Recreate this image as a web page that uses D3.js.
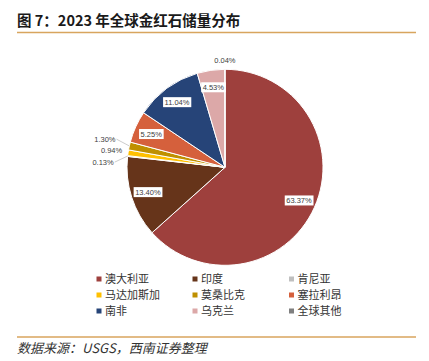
<!DOCTYPE html>
<html>
<head>
<meta charset="utf-8">
<script src="https://cdn.jsdelivr.net/npm/d3@7"></script>
<style>
  body { margin: 0; background: #fff; }
  svg { display: block; }
</style>
</head>
<body>
<svg width="429" height="361"></svg>
<script>
// chart data
const categories = ['澳大利亚', '印度', '肯尼亚', '马达加斯加', '莫桑比克', '塞拉利昂', '南非', '乌克兰', '全球其他'];
const shares = [63.37, 13.40, 0.13, 0.94, 1.30, 5.25, 11.04, 4.53, 0.04];	// % of global reserves
const colors = ['#9E403D', '#66341A', '#BFBFBF', '#FFC000', '#BF9000', '#D5603C', '#264478', '#DCA8A8', '#7F7F7F'];

const titleText = '图 7：2023 年全球金红石储量分布';
const sourceText = '数据来源：USGS，西南证券整理';

const svg = d3.select('svg');
const cjk = '"Noto Sans CJK SC", "Liberation Sans", sans-serif';
const cx = 225, cy = 167.3, R = 98;	// pie centre and radius

// title and rules
svg.append('text')
	.attr('x', 17).attr('y', 26)
	.style('font-family', cjk).style('font-size', '14.5px').style('font-weight', 700)
	.attr('fill', '#1a1a1a')
	.text(titleText);

svg.append('line').attr('x1', 17).attr('x2', 416).attr('y1', 32.5).attr('y2', 32.5)
	.attr('stroke', '#D8A55E').attr('stroke-width', 1.5);
svg.append('line').attr('x1', 17).attr('x2', 416).attr('y1', 337).attr('y2', 337)
	.attr('stroke', '#D8A55E').attr('stroke-width', 1.5);

svg.append('text')
	.attr('x', 17).attr('y', 353)
	.style('font-family', cjk).style('font-size', '13px').style('font-style', 'italic')
	.attr('fill', '#333')
	.text(sourceText);

// pie
const slices = d3.pie().sort(null).value(d => d)(shares);
const arc = d3.arc().innerRadius(0).outerRadius(R);
const labelArc = d3.arc().innerRadius(81).outerRadius(81);

const g = svg.append('g').attr('transform', `translate(${cx},${cy})`);

g.selectAll('path.slice')
	.data(slices)
	.join('path')
	.attr('class', 'slice')
	.attr('d', arc)
	.attr('fill', (d, i) => colors[i])
	.attr('stroke', '#fff')
	.attr('stroke-width', 1);

const fmt = v => v.toFixed(2) + '%';
const labelFont = '"Liberation Sans", Arial, sans-serif';

// inside labels (white boxed)
const inside = slices.filter(d => d.value >= 2);
const inG = g.selectAll('g.inlab')
	.data(inside)
	.join('g')
	.attr('class', 'inlab')
	.attr('transform', d => `translate(${labelArc.centroid(d)})`);

inG.append('text')
	.attr('text-anchor', 'middle')
	.attr('dy', '0.35em')
	.style('font-family', labelFont).style('font-size', '7.5px')
	.attr('fill', '#404040')
	.text(d => fmt(d.value));

inG.each(function() {
	const t = d3.select(this).select('text');
	const b = t.node().getBBox();
	d3.select(this).insert('rect', 'text')
		.attr('x', b.x - 1.5).attr('y', b.y - 0.5)
		.attr('width', b.width + 3).attr('height', b.height + 1)
		.attr('fill', '#fff');
});

// outside labels for small slices
const outside = slices.filter(d => d.value < 2).map(d => {
	const a = (d.startAngle + d.endAngle) / 2;
	const s = Math.sin(a), c = -Math.cos(a);
	return { d, s, c, ex: s * R, ey: c * R, x: s * (R + 6), y: c * (R + 6) };
});

// spread labels on the left side vertically
const left = outside.filter(o => o.s < -0.3).sort((a, b) => a.y - b.y);
const gap = 11.5;
const mean = d3.mean(left, o => o.y);
left.forEach((o, k) => {
	const ty = mean + (k - (left.length - 1) / 2) * gap;
	o.shift = ty - o.y;
	o.y = ty;
	if (Math.abs(o.shift) > 3) o.x -= 8;
});

outside.forEach(o => {
	if (o.shift && Math.abs(o.shift) > 3) {
		g.append('line')
			.attr('x1', o.ex).attr('y1', o.ey)
			.attr('x2', o.x + 1).attr('y2', o.y)
			.attr('stroke', '#BFBFBF').attr('stroke-width', 0.8);
	}
	g.append('text')
		.attr('x', o.x).attr('y', o.y)
		.attr('dy', Math.abs(o.s) < 0.3 ? '-0.1em' : '0.35em')
		.attr('text-anchor', Math.abs(o.s) < 0.3 ? 'middle' : (o.s < 0 ? 'end' : 'start'))
		.style('font-family', labelFont).style('font-size', '7.5px')
		.attr('fill', '#404040')
		.text(fmt(o.d.value));
});

// legend, 3 columns, row-major
const colX = [96.5, 192.5, 289];
const rowY = [279, 295, 311];
const leg = svg.selectAll('g.leg')
	.data(categories)
	.join('g')
	.attr('class', 'leg')
	.attr('transform', (d, i) => `translate(${colX[i % 3]},${rowY[Math.floor(i / 3)]})`);

leg.append('rect')
	.attr('x', 0).attr('y', -2.5).attr('width', 5).attr('height', 5)
	.attr('fill', (d, i) => colors[i]);

leg.append('text')
	.attr('x', 8.5).attr('dy', '0.36em')
	.style('font-family', cjk).style('font-size', '11px')
	.attr('fill', '#333')
	.text(d => d);
</script>
</body>
</html>
